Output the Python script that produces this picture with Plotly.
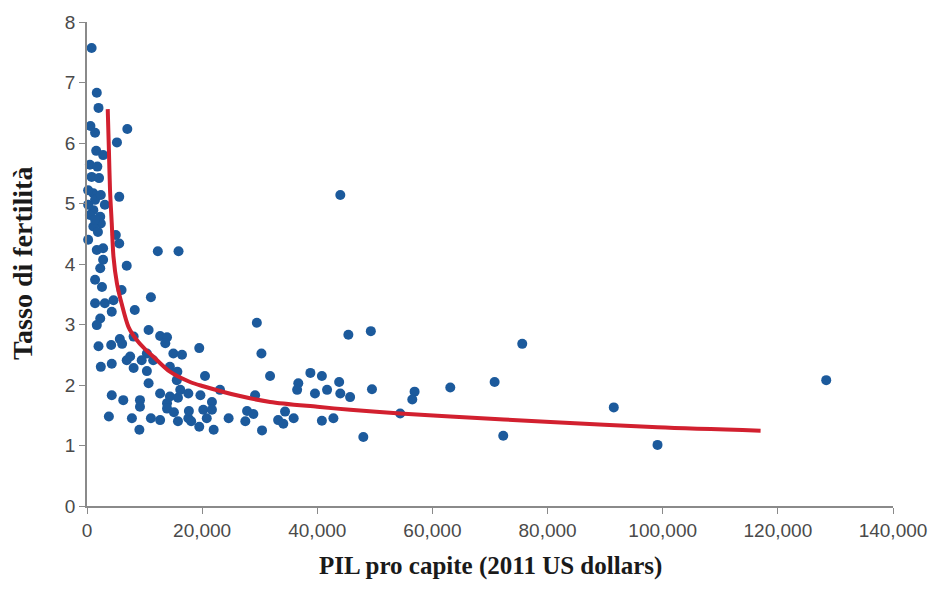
import plotly.graph_objects as go

# GDP per capita (2011 US dollars) and fertility rate
gdp = [800, 1700, 2000, 600, 1400, 7000, 5200, 1600, 2800, 500,
       1800, 800, 2100, 1100, 5600, 1400, 1100, 2300, 2400, 1100,
       5000, 5600, 1700, 2800, 12300, 15900, 2800, 6900, 2300, 1400,
       2600, 6000, 11100, 1400, 3100, 4600, 8300, 4300, 2300, 1700,
       10700, 12700, 13900, 5700, 8100, 200, 200, 500, 2400, 3100,
       1900, 200, 1400,
       2000, 4200, 6100, 7500, 10400, 11500, 13600, 15000, 16500, 19500,
       2400, 4300, 6900, 8100, 9500, 10400, 10700, 12700, 14400, 15700,
       4300, 6300, 9200, 9200, 13900, 14400, 15800, 16200, 17600, 19700,
       13900, 15100, 17600, 19500, 18100, 17700, 3800, 7800, 11100, 12700,
       9100, 15800, 15600, 20500, 21700, 20200, 21700, 20800, 22000, 23100,
       24600, 27500, 27800, 28900, 29200, 30400, 31800, 30300, 29500, 33200,
       34100, 34400, 35900, 36700, 36500, 38800, 40800, 39600, 41700, 43800,
       45700, 40800, 42800, 44000, 45400, 49300, 49500, 48000, 54400, 56900,
       56500, 63100, 70800, 75600, 72300, 91500, 99100, 128400, 44000]
fertility = [7.57, 6.83, 6.58, 6.28, 6.17, 6.23, 6.01, 5.87, 5.80, 5.64,
             5.61, 5.44, 5.42, 5.17, 5.11, 5.06, 4.89, 4.78, 4.67, 4.62,
             4.48, 4.34, 4.23, 4.26, 4.21, 4.21, 4.07, 3.97, 3.93, 3.74,
             3.62, 3.57, 3.45, 3.35, 3.35, 3.40, 3.24, 3.21, 3.10, 2.99,
             2.91, 2.81, 2.79, 2.76, 2.80, 5.22, 4.98, 4.81, 5.14, 4.98,
             4.53, 4.40, 4.73,
             2.64, 2.66, 2.68, 2.47, 2.52, 2.41, 2.69, 2.52, 2.50, 2.61,
             2.30, 2.35, 2.41, 2.28, 2.41, 2.23, 2.03, 1.86, 2.30, 2.22,
             1.83, 1.75, 1.75, 1.64, 1.70, 1.81, 1.79, 1.92, 1.86, 1.83,
             1.61, 1.55, 1.45, 1.31, 1.40, 1.57, 1.48, 1.45, 1.45, 1.42,
             1.26, 1.40, 2.08, 2.15, 1.72, 1.59, 1.59, 1.45, 1.26, 1.92,
             1.45, 1.40, 1.57, 1.52, 1.83, 1.25, 2.15, 2.52, 3.03, 1.42,
             1.36, 1.56, 1.45, 2.03, 1.92, 2.20, 2.15, 1.86, 1.92, 2.05,
             1.80, 1.41, 1.45, 1.86, 2.83, 2.89, 1.93, 1.14, 1.53, 1.89,
             1.76, 1.96, 2.05, 2.68, 1.16, 1.63, 1.01, 2.08, 5.14]

# Fitted curve
fit_gdp = [3600, 3800, 4000, 4300, 4600, 5200, 6000, 7200, 8500, 10000,
           11500, 14400, 17900, 20200, 26000, 31800, 40000, 45700, 54400,
           63100, 80500, 99100, 117000]
fit_fertility = [6.56, 5.9, 5.22, 4.67, 4.12, 3.68, 3.35, 2.96, 2.76, 2.6,
                 2.47, 2.22, 2.05, 1.98, 1.83, 1.72, 1.64, 1.59, 1.53,
                 1.48, 1.39, 1.30, 1.245]

x_ticks = [0, 20000, 40000, 60000, 80000, 100000, 120000, 140000]
y_ticks = [0, 1, 2, 3, 4, 5, 6, 7, 8]

x_title = "PIL pro capite (2011 US dollars)"
y_title = "Tasso di fertilità"

fig = go.Figure()
fig.add_trace(go.Scatter(
    x=gdp, y=fertility, mode="markers",
    marker=dict(size=10, color="#1c5a9c", line=dict(width=0)),
    cliponaxis=False, showlegend=False, hoverinfo="x+y"))
fig.add_trace(go.Scatter(
    x=fit_gdp, y=fit_fertility, mode="lines",
    line=dict(color="#d2202f", width=4, shape="spline", smoothing=0.8),
    showlegend=False))

axis_common = dict(showgrid=False, zeroline=False, showline=True,
                   linecolor="#8a8a8a", linewidth=1.5, ticks="outside",
                   ticklen=6, tickwidth=1.2, tickcolor="#8a8a8a",
                   tickfont=dict(family="Liberation Sans, Arial", size=19, color="#4a4a4a"))

fig.update_xaxes(range=[0, 140000], tickvals=x_ticks, tickformat=",", **axis_common)
fig.update_yaxes(range=[0, 8], tickvals=y_ticks, **axis_common)

title_font = dict(family="Liberation Serif, Times New Roman", color="#1a1a1a", weight="bold")
fig.add_annotation(text=x_title, xref="paper", yref="paper", x=0.5, y=0,
                   xanchor="center", yanchor="middle", yshift=-60, showarrow=False,
                   font=dict(size=25, **title_font))
fig.add_annotation(text=y_title, xref="paper", yref="paper", x=0, y=0.5,
                   xanchor="center", yanchor="middle", xshift=-65, textangle=-90,
                   showarrow=False, font=dict(size=28, **title_font))

fig.update_layout(
    width=936, height=588,
    margin=dict(l=79, r=51, t=14, b=90, autoexpand=False),
    paper_bgcolor="white", plot_bgcolor="white",
)

fig.write_html("out.html")
